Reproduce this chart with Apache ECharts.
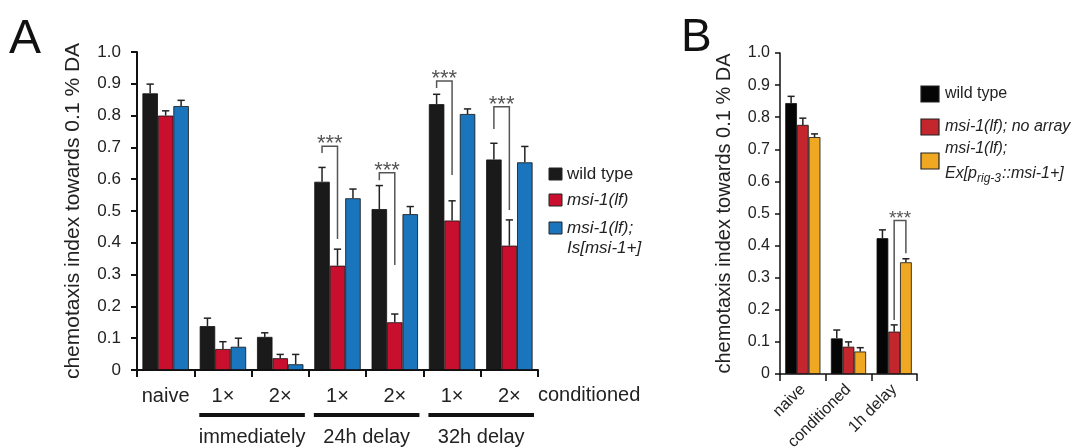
<!DOCTYPE html>
<html><head><meta charset="utf-8">
<script src="https://cdn.jsdelivr.net/npm/echarts@6/dist/echarts.min.js"></script>
<style>html,body{margin:0;padding:0;background:#fff}#c{width:1075px;height:448px}</style>
</head><body><div id="c"></div>
<script>
// ---------- Panel A data ----------
const catsA = ['naive', '1×', '2×', '1×', '2×', '1×', '2×'];
const namesA = ['wild type', 'msi-1(lf)', 'msi-1(lf);\nIs[msi-1+]'];
const wtA   = [0.870, 0.138, 0.104, 0.592, 0.506, 0.836, 0.662];
const lfA   = [0.800, 0.066, 0.037, 0.328, 0.150, 0.470, 0.391];
const resA  = [0.830, 0.073, 0.018, 0.540, 0.490, 0.805, 0.653];
const wtAErr  = [0.899, 0.163, 0.117, 0.637, 0.580, 0.867, 0.713];
const lfAErr  = [0.815, 0.089, 0.049, 0.380, 0.176, 0.532, 0.472];
const resAErr = [0.848, 0.100, 0.049, 0.569, 0.514, 0.821, 0.703];
const groupsA = [['immediately', 1, 2], ['24h delay', 3, 4], ['32h delay', 5, 6]];
// [category, left series, left leg end, bracket top, right series, right leg end]
const bracketsA = [[3, 0, 0.682, 0.704, 1, 0.412], [4, 0, 0.597, 0.620, 1, 0.330],
                   [5, 0, 0.887, 0.909, 1, 0.613], [6, 0, 0.758, 0.828, 1, 0.503]];
const yTicksA = [0, 0.1, 0.2, 0.3, 0.4, 0.5, 0.6, 0.7, 0.8, 0.9, 1.0];

// ---------- Panel B data ----------
const catsB = ['naive', 'conditioned', '1h delay'];
const namesB = ['wild type', 'msi-1(lf); no array', 'msi-1(lf);'];
const wtB   = [0.844, 0.111, 0.423];
const lfB   = [0.776, 0.085, 0.132];
const resB  = [0.738, 0.070, 0.348];
const wtBErr  = [0.865, 0.137, 0.449];
const lfBErr  = [0.797, 0.100, 0.153];
const resBErr = [0.748, 0.082, 0.359];
const bracketsB = [[2, 1, 0.168, 0.478, 2, 0.376]];

const colorsA = ['#1a1a1a', '#c8102e', '#1b75bc'];
const colorsB = ['#050505', '#c4262e', '#f0a823'];
const FONT = 'Liberation Sans, Arial, Helvetica, sans-serif';
const gapA = 0.19, gapB = 0.23;

function errRender(pos, n, gap, capRatio) {
  return function (params, api) {
    const cat = api.value(0), top = api.value(1), err = api.value(2);
    const band = api.size([1, 0])[0];
    const bw = band * (1 - gap) / n;
    const cx = api.coord([cat, 0])[0] + (pos - (n - 1) / 2) * bw;
    const yT = api.coord([cat, top])[1], yE = api.coord([cat, err])[1];
    const cap = bw * capRatio;
    return { type: 'group', children: [
      { type: 'line', shape: { x1: cx, y1: yT, x2: cx, y2: yE }, style: { stroke: '#222', lineWidth: 1.5 } },
      { type: 'line', shape: { x1: cx - cap / 2, y1: yE, x2: cx + cap / 2, y2: yE }, style: { stroke: '#222', lineWidth: 1.5 } }
    ]};
  };
}
function brRender(n, gap, fs, dy) {
  return function (params, api) {
    const cat = api.value(0);
    const band = api.size([1, 0])[0];
    const bw = band * (1 - gap) / n;
    const c = api.coord([cat, 0])[0];
    const xL = c + (api.value(1) - (n - 1) / 2) * bw;
    const xR = c + (api.value(4) - (n - 1) / 2) * bw;
    const yL = api.coord([cat, api.value(2)])[1];
    const yT = api.coord([cat, api.value(3)])[1];
    const yR = api.coord([cat, api.value(5)])[1];
    return { type: 'group', children: [
      { type: 'polyline', shape: { points: [[xL, yL], [xL, yT], [xR, yT], [xR, yR]] },
        style: { stroke: '#555', lineWidth: 1.5, fill: null } },
      { type: 'text', x: (xL + xR) / 2, y: yT + dy,
        style: { text: '***', fill: '#555', font: fs + 'px ' + FONT, align: 'center', verticalAlign: 'bottom' } }
    ]};
  };
}

function barSeries(name, data, color, axis) {
  return { type: 'bar', name: name, data: data, xAxisIndex: axis, yAxisIndex: axis,
    barGap: '0%', barCategoryGap: (axis === 0 ? gapA : gapB) * 100 + '%',
    itemStyle: { color: color, borderColor: '#111', borderWidth: 0.8 }, z: 2, silent: true };
}
function errSeries(tops, errs, pos, axis) {
  return { type: 'custom', xAxisIndex: axis, yAxisIndex: axis, z: 3, silent: true,
    renderItem: axis === 0 ? errRender(pos, 3, gapA, 0.47) : errRender(pos, 3, gapB, 0.6),
    encode: { x: 0, y: [1, 2] },
    data: tops.map((v, i) => [i, v, errs[i]]) };
}

const chart = echarts.init(document.getElementById('c'), null, { renderer: 'canvas' });
const axisLine = w => ({ show: true, lineStyle: { color: '#111', width: w } });

const option = {
  animation: false,
  textStyle: { fontFamily: FONT },
  grid: [
    { left: 137, top: 52, width: 401, height: 318, containLabel: false, outerBoundsMode: 'none' },
    { left: 780, top: 53, width: 137, height: 321, containLabel: false, outerBoundsMode: 'none' }
  ],
  xAxis: [
    { type: 'category', gridIndex: 0, data: catsA, axisLine: axisLine(2),
      axisTick: { show: true, length: 7, lineStyle: { color: '#111', width: 2 } },
      axisLabel: { interval: 0, fontSize: 20, color: '#222', margin: 16, fontFamily: FONT } },
    { type: 'category', gridIndex: 1, data: catsB, axisLine: axisLine(1.5),
      axisTick: { show: true, length: 7, lineStyle: { color: '#111', width: 1.5 } },
      axisLabel: { interval: 0, fontSize: 16, color: '#222', margin: 13, rotate: 45, fontFamily: FONT } }
  ],
  yAxis: [
    { type: 'value', gridIndex: 0, min: 0, max: 1, interval: 0.1, axisLine: axisLine(2),
      axisTick: { show: true, length: 6, lineStyle: { color: '#111', width: 2 } },
      splitLine: { show: false },
      axisLabel: { fontSize: 17, color: '#222', margin: 16, fontFamily: FONT,
        formatter: v => (Math.abs(v) < 1e-9 ? '0' : v.toFixed(1)) },
      name: 'chemotaxis index towards 0.1 % DA', nameLocation: 'middle', nameGap: 53,
      nameTextStyle: { fontSize: 21, color: '#222', fontFamily: FONT } },
    { type: 'value', gridIndex: 1, min: 0, max: 1, interval: 0.1, axisLine: axisLine(1.5),
      axisTick: { show: true, length: 5, lineStyle: { color: '#111', width: 1.5 } },
      splitLine: { show: false },
      axisLabel: { fontSize: 16, color: '#222', margin: 10, fontFamily: FONT,
        formatter: v => (Math.abs(v) < 1e-9 ? '0' : v.toFixed(1)) },
      name: 'chemotaxis index towards 0.1 % DA', nameLocation: 'middle', nameGap: 46,
      nameTextStyle: { fontSize: 20, color: '#222', fontFamily: FONT } }
  ],
  series: [
    barSeries(namesA[0], wtA, colorsA[0], 0),
    barSeries(namesA[1], lfA, colorsA[1], 0),
    barSeries(namesA[2], resA, colorsA[2], 0),
    errSeries(wtA, wtAErr, 0, 0), errSeries(lfA, lfAErr, 1, 0), errSeries(resA, resAErr, 2, 0),
    { type: 'custom', xAxisIndex: 0, yAxisIndex: 0, z: 4, silent: true, renderItem: brRender(3, gapA, 22, 9),
      encode: { x: 0, y: [2, 3, 5] }, data: bracketsA },
    barSeries(namesB[0], wtB, colorsB[0], 1),
    barSeries(namesB[1], lfB, colorsB[1], 1),
    barSeries(namesB[2], resB, colorsB[2], 1),
    errSeries(wtB, wtBErr, 0, 1), errSeries(lfB, lfBErr, 1, 1), errSeries(resB, resBErr, 2, 1),
    { type: 'custom', xAxisIndex: 1, yAxisIndex: 1, z: 4, silent: true, renderItem: brRender(3, gapB, 19, 8),
      encode: { x: 0, y: [2, 3, 5] }, data: bracketsB }
  ]
};
chart.setOption(option);

// ---------- annotations placed through the axes ----------
const g = [];
const px = (gi, c, v) => chart.convertToPixel({ xAxisIndex: gi, yAxisIndex: gi }, [c, v]);
const bandA = px(0, 1, 0)[0] - px(0, 0, 0)[0];
const baseA = px(0, 0, 0)[1];
groupsA.forEach(([lab, a, b]) => {
  const x0 = px(0, a, 0)[0] - bandA / 2 + 5, x1 = px(0, b, 0)[0] + bandA / 2 - 4;
  g.push({ type: 'rect', shape: { x: x0, y: baseA + 43, width: x1 - x0, height: 4 }, style: { fill: '#111' } });
  g.push({ type: 'text', x: (x0 + x1) / 2, y: baseA + 67,
    style: { text: lab, font: '20px ' + FONT, fill: '#222', align: 'center', verticalAlign: 'middle' } });
});
g.push({ type: 'text', x: px(0, 6, 0)[0] + bandA / 2 + 0, y: baseA + 25,
  style: { text: 'conditioned', font: '20px ' + FONT, fill: '#222', align: 'left', verticalAlign: 'middle' } });

// panel letters
g.push({ type: 'text', x: 9, y: 40, style: { text: 'A', font: '48px ' + FONT, fill: '#111', verticalAlign: 'middle' } });
g.push({ type: 'text', x: 681, y: 38, style: { text: 'B', font: '46px ' + FONT, fill: '#111', verticalAlign: 'middle' } });

// legend A
const legA = [[174, namesA[0], false], [200, namesA[1], true], [228, namesA[2], true]];
legA.forEach(([y, t, it], i) => {
  g.push({ type: 'rect', shape: { x: 549, y: y - 6, width: 13, height: 12 },
    style: { fill: colorsA[i], stroke: '#222', lineWidth: 1 } });
  g.push({ type: 'text', x: 567, y: y - 10,
    style: { text: t, font: (it ? 'italic ' : '') + '17px ' + FONT, fill: '#222', lineHeight: 20, verticalAlign: 'top' } });
});

// legend B
const legB = [[94, namesB[0], false], [127, namesB[1], true], [161, namesB[2], true]];
legB.forEach(([y, t, it], i) => {
  g.push({ type: 'rect', shape: { x: 921, y: y - 8, width: 18, height: 16 },
    style: { fill: colorsB[i], stroke: '#222', lineWidth: 1.2 } });
});
g.push({ type: 'text', x: 945, y: 94, style: { text: namesB[0], font: '16px ' + FONT, fill: '#222', verticalAlign: 'middle' } });
g.push({ type: 'text', x: 945, y: 127, style: { text: namesB[1], font: 'italic 16px ' + FONT, fill: '#222', verticalAlign: 'middle' } });
g.push({ type: 'text', x: 945, y: 149, style: { text: namesB[2], font: 'italic 16px ' + FONT, fill: '#222', verticalAlign: 'middle' } });
const ctx = document.createElement('canvas').getContext('2d');
ctx.font = 'italic 16px ' + FONT;
const w1 = ctx.measureText('Ex[p').width;
ctx.font = 'italic 12px ' + FONT;
const w2 = ctx.measureText('rig-3').width;
g.push({ type: 'text', x: 945, y: 174, style: { text: 'Ex[p', font: 'italic 16px ' + FONT, fill: '#222', verticalAlign: 'middle' } });
g.push({ type: 'text', x: 945 + w1, y: 179, style: { text: 'rig-3', font: 'italic 12px ' + FONT, fill: '#222', verticalAlign: 'middle' } });
g.push({ type: 'text', x: 945 + w1 + w2 + 1, y: 174, style: { text: '::msi-1+]', font: 'italic 16px ' + FONT, fill: '#222', verticalAlign: 'middle' } });

chart.setOption({ graphic: g });
</script></body></html>
